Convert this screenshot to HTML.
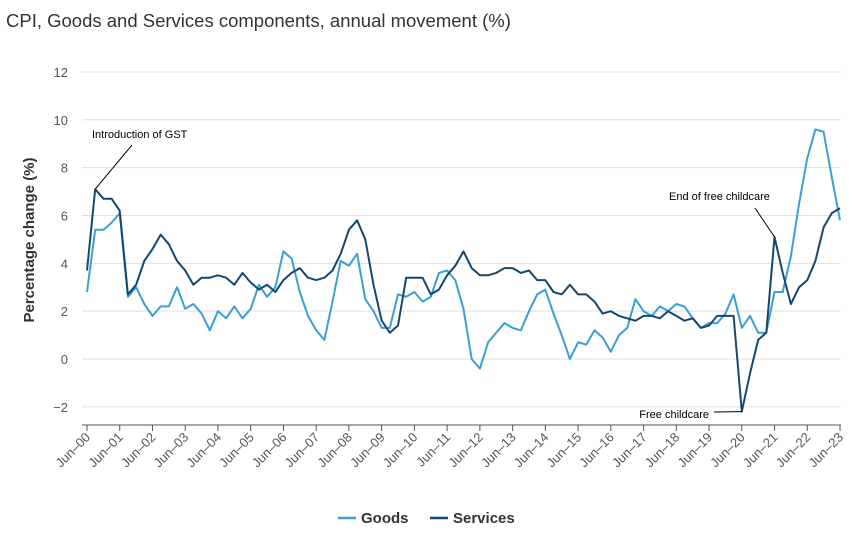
<!DOCTYPE html>
<html><head><meta charset="utf-8"><style>
body{margin:0;background:#fff;font-family:"Liberation Sans",sans-serif}
svg text{font-family:"Liberation Sans",sans-serif}
</style></head><body>
<svg width="853" height="551" viewBox="0 0 853 551" xmlns="http://www.w3.org/2000/svg">
<text x="6" y="27" font-size="18.5" fill="#333">CPI, Goods and Services components, annual movement (%)</text>
<g id="grid"></g>
<g id="ylab"></g>
<g id="xlab"></g>
<text transform="translate(34,240) rotate(-90)" text-anchor="middle" font-size="15" font-weight="bold" fill="#333">Percentage change (%)</text>
<g id="series"></g>
<g id="ann"></g>
<g>
<g><line x1="338" y1="518" x2="356" y2="518" stroke="#3a9fd4" stroke-width="2.5"/><text x="361" y="523" font-size="15" font-weight="bold" fill="#333">Goods</text></g>
<g><line x1="430" y1="518" x2="448" y2="518" stroke="#15476d" stroke-width="2.5"/><text x="453" y="523" font-size="15" font-weight="bold" fill="#333">Services</text></g>
</g>
</svg>
<script>
const startYear = 2000;
const yTicks = [-2,0,2,4,6,8,10,12];
const goods = [2.8,5.4,5.4,5.7,6.1,2.6,3.0,2.3,1.8,2.2,2.2,3.0,2.1,2.3,1.9,1.2,2.0,1.7,2.2,1.7,2.1,3.1,2.6,3.0,4.5,4.2,2.8,1.8,1.2,0.8,2.4,4.1,3.9,4.4,2.5,2.0,1.3,1.3,2.7,2.6,2.8,2.4,2.6,3.6,3.7,3.3,2.1,0.0,-0.4,0.7,1.1,1.5,1.3,1.2,2.0,2.7,2.9,1.9,1.0,0.0,0.7,0.6,1.2,0.9,0.3,1.0,1.3,2.5,2.0,1.8,2.2,2.0,2.3,2.2,1.7,1.3,1.5,1.5,1.9,2.7,1.3,1.8,1.1,1.1,2.8,2.8,4.3,6.5,8.4,9.6,9.5,7.6,5.8];
const services = [3.7,7.1,6.7,6.7,6.2,2.7,3.1,4.1,4.6,5.2,4.8,4.1,3.7,3.1,3.4,3.4,3.5,3.4,3.1,3.6,3.2,2.9,3.1,2.8,3.3,3.6,3.8,3.4,3.3,3.4,3.7,4.4,5.4,5.8,5.0,3.1,1.6,1.1,1.4,3.4,3.4,3.4,2.7,2.9,3.5,3.9,4.5,3.8,3.5,3.5,3.6,3.8,3.8,3.6,3.7,3.3,3.3,2.8,2.7,3.1,2.7,2.7,2.4,1.9,2.0,1.8,1.7,1.6,1.8,1.8,1.7,2.0,1.8,1.6,1.7,1.3,1.4,1.8,1.8,1.8,-2.2,-0.6,0.8,1.1,5.1,3.6,2.3,3.0,3.3,4.1,5.5,6.1,6.3];
const NS='http://www.w3.org/2000/svg';
const X0=87,X1=840,Y0=359,PU=23.92;
const n=goods.length;
const xs=i=>X0+(X1-X0)*i/(n-1);
const ys=v=>Y0-v*PU;
function mk(t,a,p){const e=document.createElementNS(NS,t);for(const k in a)e.setAttribute(k,a[k]);p.appendChild(e);return e;}
const grid=document.getElementById('grid'),ylab=document.getElementById('ylab');
yTicks.forEach(v=>{
 const l=mk('line',{x1:82,x2:841,y1:ys(v),y2:ys(v),stroke:'#e0e0e0','stroke-width':1},grid);
 
 
 const t=mk('text',{x:68,y:ys(v)+5,'text-anchor':'end','font-size':13,fill:'#555'},ylab);
 t.textContent=(v<0?'\u2212'+(-v):v);
 
 
});
const ax=mk('line',{x1:82,x2:841,y1:425,y2:425,stroke:'#555','stroke-width':1},grid);


const xlab=document.getElementById('xlab');
for(let i=0;i<n;i+=4){
 const x=xs(i);
 const tk=mk('line',{x1:x,x2:x,y1:425,y2:431,stroke:'#555'},xlab);
 
 
 const yr=String((startYear+i/4)%100).padStart(2,'0');
 const t=mk('text',{transform:`translate(${x+4},${438}) rotate(-45)`,'text-anchor':'end','font-size':13,fill:'#555'},xlab);
 t.textContent='Jun\u2013'+yr;
 
 
}
const ser=document.getElementById('series');
[[goods,'#3a9fd4','goods-line'],[services,'#15476d','services-line']].forEach(([d,c,nm])=>{
 const p=mk('polyline',{points:d.map((v,i)=>xs(i).toFixed(1)+','+ys(v).toFixed(1)).join(' '),fill:'none',stroke:c,'stroke-width':2,'stroke-linejoin':'round'},ser);
 
 
});
const ann=document.getElementById('ann');
function note(i,v,lx,ly,tx,ty,txt,anchor){
 const l=mk('line',{x1:xs(i),y1:ys(v),x2:lx,y2:ly,stroke:'#000','stroke-width':1},ann);
 
 
 const t=mk('text',{x:tx,y:ty,'font-size':11,fill:'#000','text-anchor':anchor||'start'},ann);
 t.textContent=txt;
 
 
}
note(1,services[1],132,145,92,138,'Introduction of GST');
note(84,services[84],755,208,669,200,'End of free childcare');
note(80,services[80],714,412,709,418,'Free childcare','end');
</script>
</body></html>
